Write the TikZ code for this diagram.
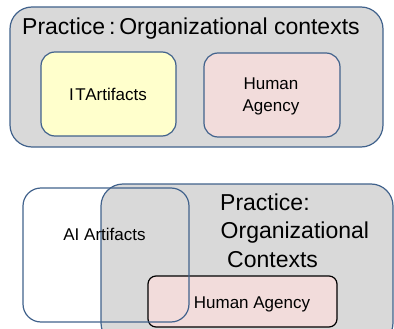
\documentclass[tikz,border=0pt]{standalone}
\usepackage{fontspec}
\setmainfont{Liberation Sans}
\definecolor{bord}{RGB}{65,98,140}
\definecolor{grayfill}{RGB}{217,217,217}
\definecolor{yel}{RGB}{255,255,204}
\definecolor{pinkf}{RGB}{242,220,219}
\begin{document}
\begin{tikzpicture}[x=1pt,y=-1pt,
  box/.style={draw=bord,line width=1.2pt,rounded corners=#1,inner sep=0pt},
  box/.default=14pt,
  lbl/.style={inner sep=0pt,font=\fontsize{17}{19}\selectfont,anchor=base},
  big/.style={inner sep=0pt,font=\fontsize{23}{26}\selectfont,anchor=base west}]
\useasboundingbox (0,0) rectangle (394,329);
\clip (0,0) rectangle (394,329);
% top
\node[box=22pt,fill=grayfill,minimum width=373pt,minimum height=140pt] (outer) at (196.5,77) {};
\node[big] (title) at (22,35) {Practice\,:\,Organizational contexts};
\node[box,fill=yel,minimum width=135pt,minimum height=84pt] (it) at (108.5,94) {};
\node[lbl] (itl) at (108,100) {I\kern1.5pt T\kern-0.5pt Artifacts};
\node[box,fill=pinkf,minimum width=136pt,minimum height=84pt] (ha) at (272,95) {};
\node[lbl] (hal1) at (271,90) {Human};
\node[lbl] (hal2) at (271,112) {Agency};
% bottom
\node[box=22pt,fill=grayfill,minimum width=292pt,minimum height=161pt] (prac) at (247,264.5) {};
\node[big] (p1) at (220,210) {Practice:};
\node[big] (p2) at (220.5,238.5) {Organizational};
\node[big] (p3) at (227,267) {Contexts};
\node[draw=black,line width=1.2pt,rounded corners=8pt,fill=pinkf,minimum width=189pt,minimum height=51pt] (ha2) at (242.5,301.5) {};
\node[lbl] (ha2l) at (252,308) {Human Agency};
\node[box=18pt,minimum width=166pt,minimum height=134pt] (ai) at (106,255) {};
\node[lbl] (ail) at (104.5,240) {AI Artifacts};
\end{tikzpicture}
\end{document}
